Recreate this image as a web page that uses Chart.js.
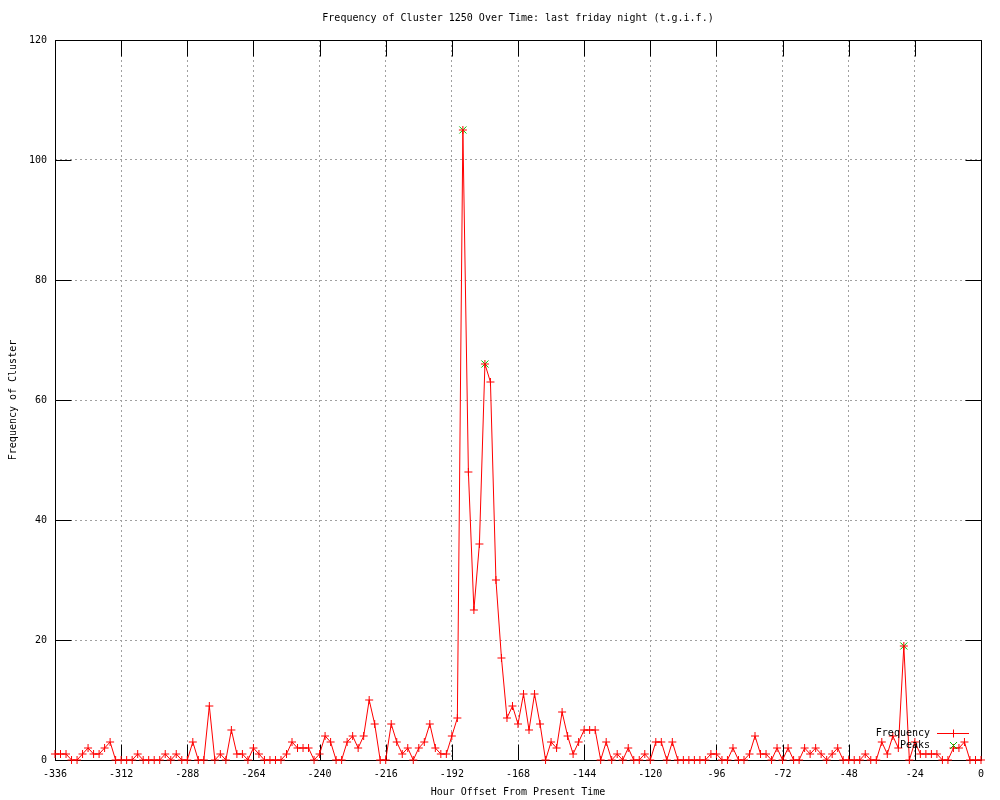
<!DOCTYPE html>
<html>
<head>
<meta charset="utf-8">
<script src="https://cdn.jsdelivr.net/npm/chart.js@4.4.1/dist/chart.umd.min.js"></script>
<style>
  html, body { margin: 0; padding: 0; background: #fff; }
  #wrap { width: 1000px; height: 800px; }
</style>
</head>
<body>
<div id="wrap"><canvas id="c" width="1000" height="800"></canvas></div>
<script>
const chartTitle = 'Frequency of Cluster 1250 Over Time: last friday night (t.g.i.f.)';
const xAxisTitle = 'Hour Offset From Present Time';
const yAxisTitle = 'Frequency of Cluster';

const hours = [
  -336,-334,-332,-330,-328,-326,-324,-322,-320,-318,-316,-314,
  -312,-310,-308,-306,-304,-302,-300,-298,-296,-294,-292,-290,
  -288,-286,-284,-282,-280,-278,-276,-274,-272,-270,-268,-266,
  -264,-262,-260,-258,-256,-254,-252,-250,-248,-246,-244,-242,
  -240,-238,-236,-234,-232,-230,-228,-226,-224,-222,-220,-218,
  -216,-214,-212,-210,-208,-206,-204,-202,-200,-198,-196,-194,
  -192,-190,-188,-186,-184,-182,-180,-178,-176,-174,-172,-170,
  -168,-166,-164,-162,-160,-158,-156,-154,-152,-150,-148,-146,
  -144,-142,-140,-138,-136,-134,-132,-130,-128,-126,-124,-122,
  -120,-118,-116,-114,-112,-110,-108,-106,-104,-102,-100,-98,
  -96,-94,-92,-90,-88,-86,-84,-82,-80,-78,-76,-74,
  -72,-70,-68,-66,-64,-62,-60,-58,-56,-54,-52,-50,
  -48,-46,-44,-42,-40,-38,-36,-34,-32,-30,-28,-26,
  -24,-22,-20,-18,-16,-14,-12,-10,-8,-6,-4,-2,
  0
];

const frequency = [
  1,1,1,0,0,1,2,1,1,2,3,0,
  0,0,0,1,0,0,0,0,1,0,1,0,
  0,3,0,0,9,0,1,0,5,1,1,0,
  2,1,0,0,0,0,1,3,2,2,2,0,
  1,4,3,0,0,3,4,2,4,10,6,0,
  0,6,3,1,2,0,2,3,6,2,1,1,
  4,7,105,48,25,36,66,63,30,17,7,9,
  6,11,5,11,6,0,3,2,8,4,1,3,
  5,5,5,0,3,0,1,0,2,0,0,1,
  0,3,3,0,3,0,0,0,0,0,0,1,
  1,0,0,2,0,0,1,4,1,1,0,2,
  0,2,0,0,2,1,2,1,0,1,2,0,
  0,0,0,1,0,0,3,1,4,2,19,0,
  3,1,1,1,1,0,0,2,2,3,0,0,
  0
];

const peakHours = [-188, -180, -28];
const peakValues = [105, 66, 19];

const xTicks = [-336,-312,-288,-264,-240,-216,-192,-168,-144,-120,-96,-72,-48,-24,0];
const yTicks = [0,20,40,60,80,100,120];

const FONT = { family: '"DejaVu Sans Mono", "Liberation Mono", monospace', size: 10 };
const RED = '#ff0000';
const GREEN = '#00c000';

const whiteBg = {
  id: 'whiteBg',
  beforeDraw(chart) {
    const ctx = chart.ctx;
    ctx.save();
    ctx.fillStyle = '#fff';
    ctx.fillRect(0, 0, chart.width, chart.height);
    ctx.restore();
  }
};

const plotTitle = {
  id: 'plotTitle',
  afterDraw(chart) {
    const { ctx, chartArea: a } = chart;
    ctx.save();
    ctx.font = FONT.size + 'px ' + FONT.family;
    ctx.fillStyle = '#000';
    ctx.textAlign = 'center';
    ctx.textBaseline = 'middle';
    ctx.fillText(chartTitle, (a.left + a.right) / 2, 18);
    ctx.restore();
  }
};

const frame = {
  id: 'frame',
  beforeDatasetsDraw(chart) {
    const { ctx, chartArea: a, scales: { x, y } } = chart;
    ctx.save();
    ctx.strokeStyle = '#000';
    ctx.lineWidth = 1;
    ctx.setLineDash([]);
    const L = Math.round(a.left) + 0.5, R = Math.round(a.right) + 0.5;
    const T = Math.round(a.top) + 0.5, B = Math.round(a.bottom) + 0.5;
    ctx.beginPath();
    ctx.rect(L, T, R - L, B - T);
    const len = 16;
    xTicks.forEach(v => {
      const px = Math.round(x.getPixelForValue(v)) + 0.5;
      ctx.moveTo(px, B); ctx.lineTo(px, B - len);
      ctx.moveTo(px, T); ctx.lineTo(px, T + len);
    });
    yTicks.forEach(v => {
      const py = Math.round(y.getPixelForValue(v)) + 0.5;
      ctx.moveTo(L, py); ctx.lineTo(L + len, py);
      ctx.moveTo(R, py); ctx.lineTo(R - len, py);
    });
    ctx.stroke();
    ctx.restore();
  }
};

const key = {
  id: 'key',
  afterDatasetsDraw(chart) {
    const ctx = chart.ctx;
    const ds = chart.data.datasets;
    ctx.save();
    ctx.font = FONT.size + 'px ' + FONT.family;
    ctx.fillStyle = '#000';
    ctx.textAlign = 'right';
    ctx.textBaseline = 'middle';
    const tx = 930, sx0 = 937, sx1 = 969, sc = 953;
    const y1 = 733, y2 = 745;
    ctx.fillText(ds[0].label, tx, y1);
    ctx.fillText(ds[1].label, tx, y2);
    ctx.strokeStyle = RED; ctx.lineWidth = 1;
    ctx.beginPath();
    ctx.moveTo(sx0, y1 + 0.5); ctx.lineTo(sx1, y1 + 0.5);
    ctx.moveTo(sc + 0.5, y1 - 3.5); ctx.lineTo(sc + 0.5, y1 + 4.5);
    ctx.stroke();
    ctx.strokeStyle = GREEN;
    ctx.beginPath();
    ctx.moveTo(sc - 3, y2 - 3); ctx.lineTo(sc + 4, y2 + 4);
    ctx.moveTo(sc + 4, y2 - 3); ctx.lineTo(sc - 3, y2 + 4);
    ctx.stroke();
    ctx.restore();
  }
};

new Chart(document.getElementById('c'), {
  type: 'line',
  data: {
    datasets: [
      {
        label: 'Frequency',
        data: hours.map((h, i) => ({ x: h, y: frequency[i] })),
        borderColor: RED,
        backgroundColor: RED,
        borderWidth: 1,
        pointStyle: 'cross',
        pointRadius: 4,
        pointBorderWidth: 1,
        pointBorderColor: RED,
        tension: 0,
        fill: false,
        clip: false
      },
      {
        label: 'Peaks',
        data: peakHours.map((h, i) => ({ x: h, y: peakValues[i] })),
        showLine: false,
        borderColor: GREEN,
        backgroundColor: GREEN,
        pointStyle: 'crossRot',
        pointRadius: 5,
        pointBorderWidth: 1,
        pointBorderColor: GREEN,
        clip: false
      }
    ]
  },
  options: {
    responsive: false,
    animation: false,
    devicePixelRatio: 1,
    layout: { padding: { left: 0, right: 19, top: 40, bottom: 0 } },
    plugins: {
      legend: { display: false },
      tooltip: { enabled: false },
      title: { display: false }
    },
    scales: {
      x: {
        type: 'linear',
        min: -336,
        max: 0,
        afterFit(s) { s.height = 40; },
        afterBuildTicks(s) { s.ticks = xTicks.map(v => ({ value: v })); },
        ticks: { color: '#000', font: FONT, padding: 8, maxRotation: 0, autoSkip: false },
        grid: { color: '#a0a0a0', lineWidth: 1, drawTicks: false },
        border: { display: false, dash: [2, 3] },
        title: { display: true, text: xAxisTitle, color: '#000', font: { ...FONT, lineHeight: 1.2 }, padding: { top: 0, bottom: 2 } }
      },
      y: {
        min: 0,
        max: 120,
        afterFit(s) { s.width = 55; },
        afterBuildTicks(s) { s.ticks = yTicks.map(v => ({ value: v })); },
        ticks: { color: '#000', font: FONT, padding: 8 },
        grid: { color: '#a0a0a0', lineWidth: 1, drawTicks: false },
        border: { display: false, dash: [2, 3] },
        title: { display: true, text: yAxisTitle, color: '#000', font: { ...FONT, lineHeight: 1.2 }, padding: { top: 7, bottom: 0 } }
      }
    }
  },
  plugins: [whiteBg, frame, key, plotTitle]
});
</script>
</body>
</html>
